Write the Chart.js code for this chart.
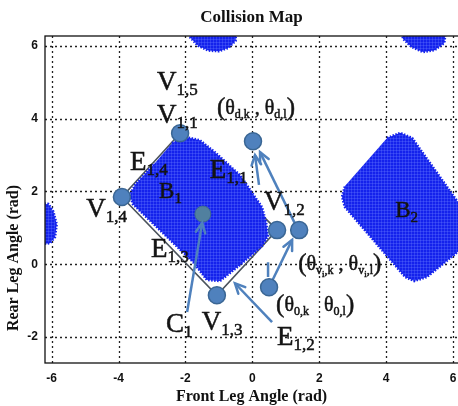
<!DOCTYPE html>
<html>
<head>
<meta charset="utf-8">
<script src="https://cdn.jsdelivr.net/npm/chart.js@4"></script>
<style>
  html, body { margin: 0; padding: 0; background: #fff; }
  canvas { display: block; }
</style>
</head>
<body>
<canvas id="collisionChart" width="458" height="406"></canvas>
<script>
// Axis ticks
const xTicks = [-6, -4, -2, 0, 2, 4, 6];
const yTicks = [-2, 0, 2, 4, 6];

// Collision regions, outlines (front, rear) in rad
const regionB1 = [
  [-2.40, 3.33], [-2.01, 3.50], [-1.57, 3.41], [-1.12, 3.08], [-0.37, 2.45],
  [0.29, 1.57], [0.41, 1.16], [0.47, 0.78], [0.29, 0.50], [-0.37, -0.02],
  [-0.97, -0.46], [-1.36, -0.43], [-1.77, 0.06], [-3.57, 1.65], [-3.66, 1.90],
  [-3.51, 2.18], [-2.91, 2.78]
];
const regionB2 = [
  [4.03, 3.47], [4.42, 3.61], [4.78, 3.47], [6.21, 1.63], [6.81, 0.94],
  [6.21, 0.39], [5.22, -0.35], [4.84, -0.46], [4.57, -0.35], [2.77, 1.57],
  [2.68, 1.85], [2.77, 2.15]
];
const blobTopLeft = [
  [-1.85, 6.5], [-1.85, 6.22], [-1.62, 6.0], [-1.32, 5.87], [-1.0, 5.85],
  [-0.72, 5.94], [-0.5, 6.14], [-0.48, 6.5]
];
const blobTopRight = [
  [4.48, 6.5], [4.5, 6.2], [4.76, 5.97], [5.1, 5.83], [5.45, 5.88],
  [5.74, 6.08], [5.8, 6.5]
];
const blobLeft = [
  [-6.4, 1.68], [-6.1, 1.66], [-5.95, 1.45], [-5.85, 1.1], [-5.9, 0.75],
  [-6.05, 0.58], [-6.4, 0.55]
];

// Bounding polygon of B1: V1,1 -> V1,2 -> V1,3 -> V1,4 -> V1,1
const polygonV1 = [[-2.16, 3.60], [0.74, 0.94], [-1.06, -0.85], [-3.90, 1.85], [-2.16, 3.60]];

// Circles: V1,1, (θd), V1,4, V1,2, (θvi), (θ0), V1,3
const nodes = [
  [-2.16, 3.60], [0.02, 3.38], [-3.90, 1.85], [0.74, 0.94],
  [1.40, 0.94], [0.50, -0.63], [-1.06, -0.85]
];
const centroidC1 = [[-1.48, 1.38]];

// Arrows as [start, end]
const arrows = [
  [[-1.95, -1.31], [-1.50, 1.14]],
  [[0.59, -1.59], [-0.52, -0.52]],
  [[0.50, -0.63], [1.19, 0.67]],
  [[1.37, 0.94], [0.23, 3.08]],
  [[0.20, 2.18], [0.08, 3.00]]
];
const stubs = [
  [[0.47, 0.06], [0.47, -0.35]]
];

// Annotation texts: pieces of [text, style]
const labelParts = [
  [['V', 'big'], ['1,5', 'sub']],
  [['V', 'big'], ['1,1', 'sub']],
  [['(', 'paren'], ['θ', 'theta'], ['d,k', 'tsub'], [' , ', 'theta'], ['θ', 'theta'], ['d,l', 'tsub'], [')', 'paren']],
  [['E', 'big'], ['1,4', 'sub']],
  [['B', 'mid'], ['1', 'msub']],
  [['E', 'big'], ['1,1', 'sub']],
  [['V', 'big'], ['1,2', 'sub']],
  [['V', 'big'], ['1,4', 'sub']],
  [['E', 'big'], ['1,3', 'sub']],
  [['(', 'paren'], ['θ', 'theta'], ['v', 'tsub'], ['i', 'tsub2'], [',k', 'tsub'], [' , ', 'theta'], ['θ', 'theta'], ['v', 'tsub'], ['i', 'tsub2'], [',l', 'tsub'], [')', 'paren']],
  [['(', 'paren'], ['θ', 'theta'], ['0,k', 'tsub'], ['   ', 'theta'], ['θ', 'theta'], ['0,l', 'tsub'], [')', 'paren']],
  [['C', 'big'], ['1', 'sub']],
  [['V', 'big'], ['1,3', 'sub']],
  [['E', 'big'], ['1,2', 'sub']],
  [['B', 'mid'], ['2', 'msub']]
];
const labelAnchors = [
  [-2.85, 4.79], [-2.85, 3.88], [-1.06, 4.13], [-3.66, 2.59], [-2.79, 1.82],
  [-1.27, 2.37], [0.35, 1.49], [-4.97, 1.30], [-3.03, 0.20], [1.37, -0.16],
  [0.71, -1.29], [-2.58, -1.86], [-1.51, -1.81], [0.74, -2.22], [4.27, 1.30]
];

const serif = '"Liberation Serif", "DejaVu Serif", serif';
const runStyles = {
  big:   { font: '27px ' + serif, dy: 0 },
  sub:   { font: '17px ' + serif, dy: 5 },
  mid:   { font: '23px ' + serif, dy: 0 },
  msub:  { font: '15px ' + serif, dy: 5 },
  paren: { font: '25px ' + serif, dy: 1 },
  theta: { font: '20px ' + serif, dy: 0 },
  tsub:  { font: '12px ' + serif, dy: 4 },
  tsub2: { font: '9px ' + serif, dy: 7 }
};

const toXY = pts => pts.map(p => ({ x: p[0], y: p[1] }));

// Blue marker texture for the collision regions
function makeTexture() {
  const c = document.createElement('canvas');
  c.width = 3; c.height = 3;
  const g = c.getContext('2d');
  g.fillStyle = '#1422ec';
  g.fillRect(0, 0, 3, 3);
  g.fillStyle = 'rgba(110,130,255,0.3)';
  g.fillRect(0, 0, 3, 1);
  g.fillRect(0, 0, 1, 3);
  return g.createPattern(c, 'repeat');
}
const texture = makeTexture();
const blue = '#1422ec';

function region(pts) {
  return {
    data: toXY(pts), showLine: true, fill: 'shape', backgroundColor: texture,
    borderColor: blue, borderWidth: 2.5, borderDash: [1.5, 1.5], pointRadius: 0, order: 3
  };
}

const datasets = [
  { data: toXY(polygonV1), showLine: true, borderColor: '#4b535c', borderWidth: 1.6, pointRadius: 0, order: 4 },
  region(regionB1), region(regionB2), region(blobTopLeft), region(blobTopRight), region(blobLeft),
  { data: toXY(centroidC1), pointRadius: 8, pointBackgroundColor: '#51809f', pointBorderColor: '#3f6a90', pointBorderWidth: 1, order: 2 },
  ...arrows.map(a => ({ data: toXY(a), showLine: true, borderColor: '#4f81bd', borderWidth: 2.5, pointRadius: 0, arrowHead: true, order: 1 })),
  ...stubs.map(a => ({ data: toXY(a), showLine: true, borderColor: '#4f81bd', borderWidth: 2.5, pointRadius: 0, order: 1 })),
  { data: toXY(nodes), pointRadius: 8.5, pointBackgroundColor: '#4f81bd', pointBorderColor: '#3a6694', pointBorderWidth: 1.5, order: 0 }
];

// Dotted grid under the data
const dottedGrid = {
  id: 'dottedGrid',
  beforeDatasetsDraw(chart) {
    const { ctx, chartArea: a, scales: { x, y } } = chart;
    ctx.save();
    ctx.strokeStyle = '#222';
    ctx.lineWidth = 1.3;
    ctx.setLineDash([2, 3]);
    xTicks.forEach(v => {
      const px = Math.round(x.getPixelForValue(v)) + 0.5;
      ctx.beginPath(); ctx.moveTo(px, a.top); ctx.lineTo(px, a.bottom); ctx.stroke();
    });
    yTicks.forEach(v => {
      const py = Math.round(y.getPixelForValue(v)) + 0.5;
      ctx.beginPath(); ctx.moveTo(a.left, py); ctx.lineTo(a.right, py); ctx.stroke();
    });
    ctx.restore();
  }
};

const annotations = {
  id: 'annotations',
  afterDatasetsDraw(chart) {
    const { ctx, chartArea: a, scales: { x, y } } = chart;
    ctx.save();
    // arrow heads
    chart.data.datasets.forEach((ds, i) => {
      if (!ds.arrowHead) return;
      const pts = chart.getDatasetMeta(i).data;
      const p0 = pts[pts.length - 2], p1 = pts[pts.length - 1];
      const ang = Math.atan2(p1.y - p0.y, p1.x - p0.x);
      ctx.strokeStyle = ds.borderColor;
      ctx.lineWidth = 2.5;
      ctx.lineCap = 'round';
      ctx.beginPath();
      ctx.moveTo(p1.x - 11 * Math.cos(ang - 0.45), p1.y - 11 * Math.sin(ang - 0.45));
      ctx.lineTo(p1.x, p1.y);
      ctx.lineTo(p1.x - 11 * Math.cos(ang + 0.45), p1.y - 11 * Math.sin(ang + 0.45));
      ctx.stroke();
    });
    // frame
    ctx.strokeStyle = '#111';
    ctx.lineWidth = 1.3;
    ctx.strokeRect(a.left, a.top, a.right - a.left + 2, a.bottom - a.top);
    // labels
    ctx.fillStyle = '#141414';
    ctx.strokeStyle = '#141414';
    ctx.lineWidth = 0.5;
    ctx.textBaseline = 'alphabetic';
    ctx.textAlign = 'left';
    labelParts.forEach((parts, i) => {
      let px = x.getPixelForValue(labelAnchors[i][0]);
      const py = y.getPixelForValue(labelAnchors[i][1]);
      parts.forEach(([t, s]) => {
        ctx.font = runStyles[s].font;
        ctx.fillText(t, px, py + runStyles[s].dy);
        ctx.strokeText(t, px, py + runStyles[s].dy);
        px += ctx.measureText(t).width;
      });
    });
    // titles
    ctx.font = 'bold 17px ' + serif;
    ctx.textAlign = 'center';
    ctx.textBaseline = 'middle';
    ctx.fillStyle = '#111';
    ctx.fillText('Collision Map', (a.left + a.right) / 2, 18);
    ctx.font = 'bold 16px ' + serif;
    ctx.fillText('Front Leg Angle (rad)', (a.left + a.right) / 2, 397);
    ctx.translate(14, 258);
    ctx.rotate(-Math.PI / 2);
    ctx.fillText('Rear Leg Angle (rad)', 0, 0);
    ctx.restore();
  }
};

const tickFont = { family: '"Liberation Sans Narrow", "Liberation Sans", sans-serif', size: 12, weight: 'bold' };

new Chart(document.getElementById('collisionChart'), {
  type: 'scatter',
  data: { datasets },
  options: {
    responsive: false,
    animation: false,
    layout: { autoPadding: false, padding: { top: 36, right: 0, left: 0, bottom: 0 } },
    plugins: {
      legend: { display: false },
      tooltip: { enabled: false }
    },
    scales: {
      x: {
        min: -6.2, max: 6.15,
        afterBuildTicks: s => { s.ticks = xTicks.map(v => ({ value: v })); },
        afterFit: s => { s.height = 43; s.paddingLeft = 0; s.paddingRight = 0; },
        grid: { display: false, drawTicks: false },
        border: { display: false },
        ticks: { padding: 8, color: '#111', font: tickFont }
      },
      y: {
        min: -2.71, max: 6.27,
        afterBuildTicks: s => { s.ticks = yTicks.map(v => ({ value: v })); },
        afterFit: s => { s.width = 45; s.paddingTop = 0; s.paddingBottom = 0; },
        grid: { display: false, drawTicks: false },
        border: { display: false },
        ticks: { padding: 7, color: '#111', font: tickFont }
      }
    }
  },
  plugins: [dottedGrid, annotations]
});
</script>
</body>
</html>
